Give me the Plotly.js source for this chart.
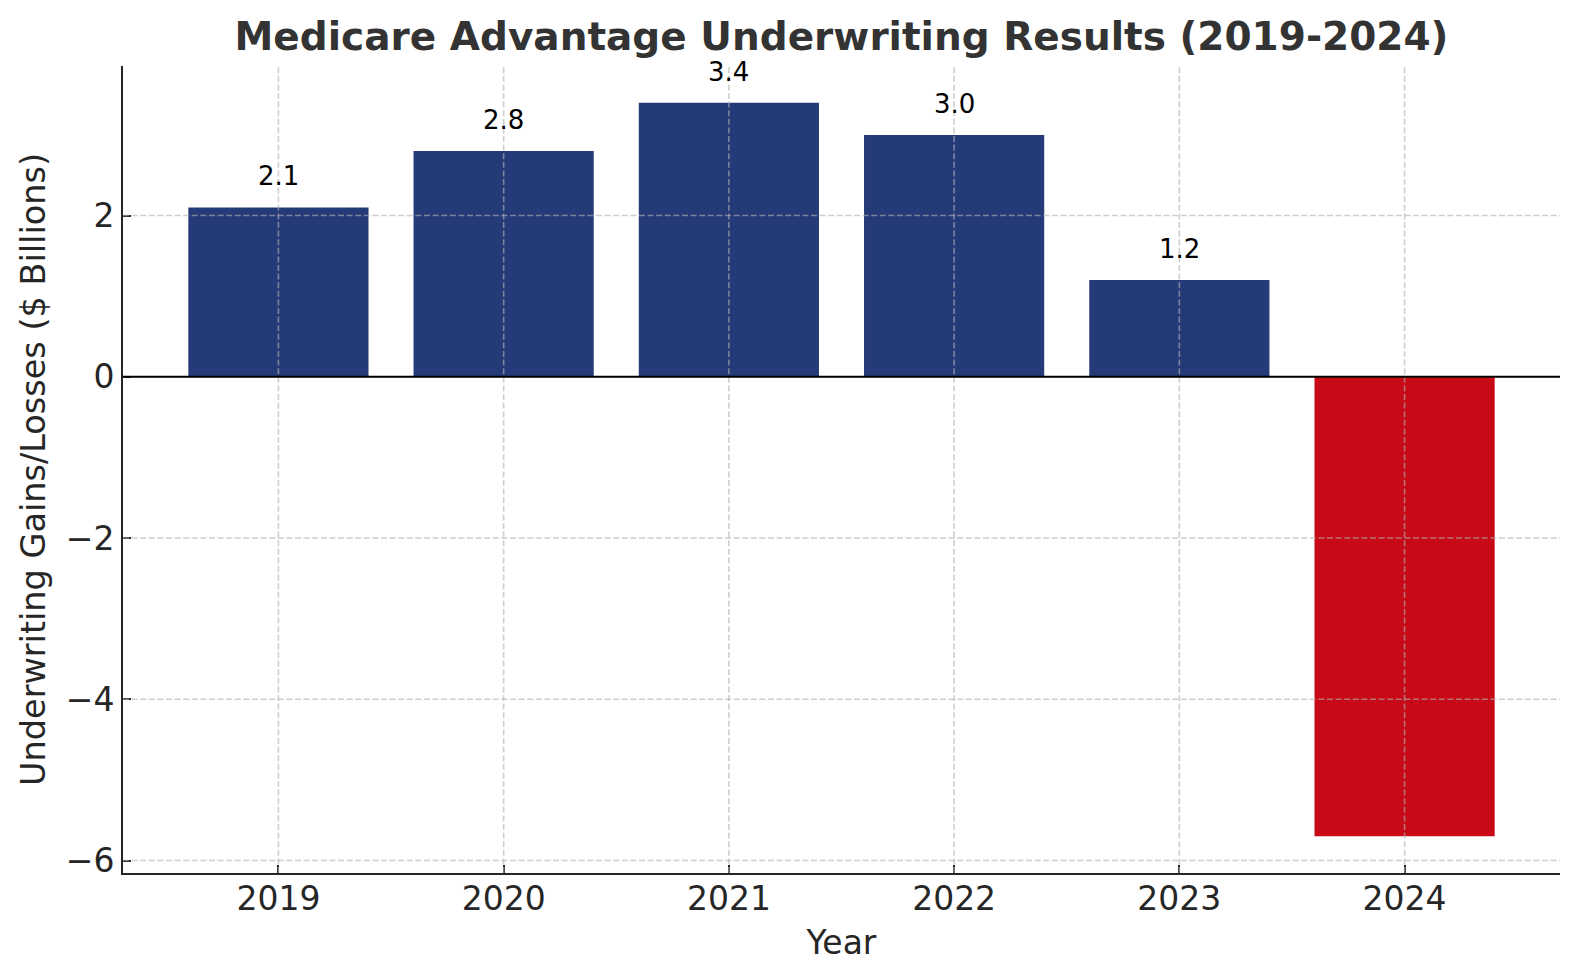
<!DOCTYPE html>
<html>
<head>
<meta charset="utf-8">
<script src="https://cdn.plot.ly/plotly-3.0.1.min.js"></script>
<style>html,body{margin:0;padding:0;background:#fff;}#chart{width:1580px;height:980px;}</style>
</head>
<body>
<div id="chart"></div>
<script>
const years = ["2019", "2020", "2021", "2022", "2023", "2024"];
const results = [2.1, 2.8, 3.4, 3.0, 1.2, -5.7];
const yTickVals = [-6, -4, -2, 0, 2];
const yTickText = ["\u22126", "\u22124", "\u22122", "0", "2"];

const NAVY = "#253A78";
const RED = "#C70A16";
const INK = "#262626";
const GRID = "rgba(178,178,178,0.62)";
const FONT = "DejaVu Sans, sans-serif";

const xIdx = years.map((_, i) => i);
const barColors = results.map(v => v >= 0 ? NAVY : RED);

const trace = {
  type: "bar",
  x: xIdx,
  y: results,
  width: 0.8,
  marker: {color: barColors, line: {width: 0}},
  hoverinfo: "x+y"
};

const shapes = [];
xIdx.forEach(i => shapes.push({
  type: "line", layer: "above", xref: "x", yref: "paper",
  x0: i, x1: i, y0: 0, y1: 1,
  line: {color: GRID, width: 1.6, dash: "6px,2.6px"}
}));
yTickVals.forEach(v => shapes.push({
  type: "line", layer: "above", xref: "paper", yref: "y",
  x0: 0, x1: 1, y0: v, y1: v,
  line: {color: GRID, width: 1.6, dash: "6px,2.6px"}
}));
shapes.push({
  type: "line", layer: "above", xref: "paper", yref: "y",
  x0: 0, x1: 1, y0: 0, y1: 0,
  line: {color: "#000000", width: 2}
});

const annotations = [];
xIdx.forEach(i => {
  const v = results[i];
  if (v >= 0) {
    annotations.push({
      x: i, y: v + 0.2, xref: "x", yref: "y",
      text: v.toFixed(1), showarrow: false,
      xanchor: "center", yanchor: "bottom", yshift: -2,
      font: {family: FONT, size: 26, color: "#000000"}
    });
  }
});

const layout = {
  width: 1580, height: 980,
  paper_bgcolor: "#ffffff", plot_bgcolor: "#ffffff",
  margin: {l: 123, r: 20, t: 66, b: 107},
  showlegend: false,
  font: {family: FONT, color: INK},
  title: {
    text: "<b>Medicare Advantage Underwriting Results (2019-2024)</b>",
    font: {family: FONT, size: 39, color: "#333333"},
    x: 0.5, xref: "paper", xanchor: "center",
    y: 1 - 36 / 980, yref: "container", yanchor: "middle"
  },
  xaxis: {
    type: "linear",
    range: [-0.69, 5.69],
    tickvals: xIdx, ticktext: years,
    showline: true, linecolor: INK, linewidth: 2,
    ticks: "inside", ticklen: 8, tickwidth: 2, tickcolor: INK,
    ticklabelstandoff: -5,
    showgrid: false, zeroline: false,
    tickfont: {family: FONT, size: 33, color: INK},
    title: {text: "Year", font: {family: FONT, size: 33, color: INK}, standoff: 14}
  },
  yaxis: {
    range: [-6.155, 3.855],
    tickvals: yTickVals, ticktext: yTickText,
    showline: true, linecolor: INK, linewidth: 2,
    ticks: "inside", ticklen: 8, tickwidth: 2, tickcolor: INK,
    showgrid: false, zeroline: false,
    tickfont: {family: FONT, size: 33, color: INK},
    title: {text: "Underwriting Gains/Losses ($ Billions)", font: {family: FONT, size: 33.5, color: INK}, standoff: 10}
  },
  shapes: shapes,
  annotations: annotations
};

Plotly.newPlot("chart", [trace], layout, {displayModeBar: false, staticPlot: true});
</script>
</body>
</html>
